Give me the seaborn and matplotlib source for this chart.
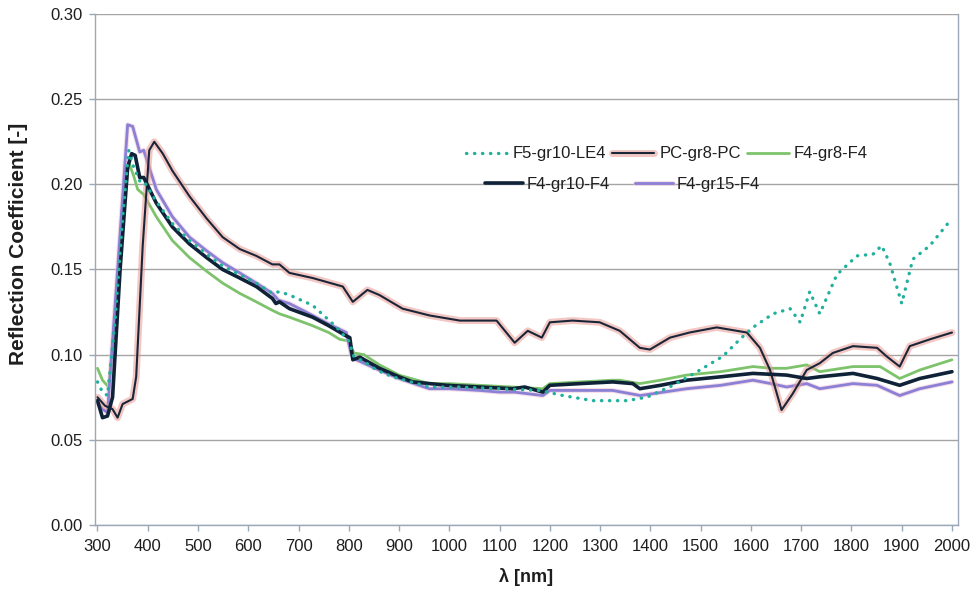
import matplotlib
matplotlib.use("Agg")
import matplotlib.pyplot as plt
import matplotlib.patheffects as pe
import seaborn as sns

# wavelength [nm] / reflection coefficient
f5_x = [300, 310, 320, 335, 350, 362, 372, 384, 392, 417, 449, 483, 517, 549, 583, 616, 648, 662, 682,
        728, 776, 800, 810, 830, 855, 887, 961, 1020, 1100, 1180, 1226, 1285, 1353, 1393, 1445, 1493,
        1544, 1578, 1604, 1644, 1678, 1698, 1717, 1737, 1771, 1811, 1843, 1860, 1876, 1900, 1922, 1956, 2000]
f5_y = [0.084, 0.078, 0.076, 0.120, 0.180, 0.220, 0.210, 0.202, 0.202, 0.190, 0.177, 0.167, 0.159, 0.152,
        0.147, 0.142, 0.136, 0.137, 0.135, 0.129, 0.116, 0.108, 0.099, 0.096, 0.091, 0.087, 0.081, 0.081,
        0.080, 0.079, 0.076, 0.073, 0.073, 0.075, 0.082, 0.090, 0.099, 0.109, 0.116, 0.124, 0.127, 0.119,
        0.137, 0.124, 0.147, 0.158, 0.159, 0.164, 0.154, 0.130, 0.156, 0.164, 0.180]

pc_x = [300, 315, 330, 340, 350, 370, 377, 390, 403, 413, 430, 449, 483, 517, 549, 583, 616, 648, 662,
        682, 728, 788, 808, 837, 861, 907, 961, 1021, 1094, 1130, 1156, 1184, 1200, 1245, 1299, 1339,
        1379, 1399, 1439, 1478, 1532, 1592, 1618, 1638, 1661, 1683, 1711, 1737, 1763, 1803, 1851, 1870,
        1896, 1916, 1956, 2000]
pc_y = [0.075, 0.070, 0.068, 0.063, 0.071, 0.074, 0.087, 0.164, 0.220, 0.225, 0.218, 0.208, 0.193, 0.180,
        0.169, 0.162, 0.158, 0.153, 0.153, 0.148, 0.145, 0.140, 0.131, 0.138, 0.135, 0.127, 0.123, 0.120,
        0.120, 0.107, 0.114, 0.110, 0.119, 0.120, 0.119, 0.114, 0.104, 0.103, 0.110, 0.113, 0.116, 0.113,
        0.104, 0.091, 0.0675, 0.077, 0.091, 0.095, 0.101, 0.105, 0.104, 0.099, 0.093, 0.105, 0.109, 0.113]

gr8_x = [300, 310, 322, 335, 350, 362, 372, 380, 392, 417, 449, 483, 517, 549, 583, 616, 648, 662, 682,
         728, 760, 782, 800, 810, 830, 861, 900, 960, 1000, 1060, 1126, 1186, 1200, 1260, 1325, 1339,
         1379, 1420, 1472, 1540, 1604, 1640, 1671, 1711, 1737, 1803, 1857, 1896, 1936, 2000]
gr8_y = [0.092, 0.085, 0.081, 0.120, 0.180, 0.213, 0.205, 0.197, 0.194, 0.181, 0.167, 0.157, 0.149, 0.142,
         0.136, 0.131, 0.126, 0.124, 0.122, 0.117, 0.113, 0.109, 0.108, 0.101, 0.100, 0.094, 0.088, 0.083,
         0.083, 0.082, 0.081, 0.080, 0.083, 0.084, 0.085, 0.085, 0.083, 0.085, 0.088, 0.090, 0.093, 0.092,
         0.092, 0.094, 0.090, 0.093, 0.093, 0.086, 0.091, 0.097]

gr10_x = [300, 310, 320, 330, 345, 360, 368, 375, 384, 392, 417, 449, 483, 517, 549, 583, 616, 648, 655,
          662, 682, 728, 760, 795, 802, 808, 822, 861, 900, 927, 995, 1060, 1126, 1150, 1186, 1200, 1260,
          1325, 1365, 1379, 1420, 1472, 1540, 1604, 1671, 1711, 1737, 1803, 1851, 1896, 1936, 2000]
gr10_y = [0.073, 0.063, 0.064, 0.075, 0.150, 0.210, 0.218, 0.217, 0.204, 0.204, 0.189, 0.175, 0.165, 0.157,
          0.150, 0.145, 0.140, 0.133, 0.130, 0.131, 0.127, 0.122, 0.117, 0.111, 0.110, 0.097, 0.0985, 0.092,
          0.087, 0.084, 0.082, 0.081, 0.080, 0.081, 0.078, 0.082, 0.083, 0.084, 0.083, 0.080, 0.082, 0.085,
          0.087, 0.089, 0.088, 0.086, 0.087, 0.089, 0.086, 0.082, 0.086, 0.090]

gr15_x = [300, 310, 320, 340, 360, 370, 384, 392, 417, 449, 483, 517, 549, 583, 616, 648, 660, 682, 728,
          760, 795, 805, 815, 830, 860, 900, 960, 1000, 1060, 1100, 1130, 1186, 1200, 1260, 1325, 1380,
          1472, 1540, 1604, 1640, 1671, 1711, 1737, 1803, 1851, 1896, 1936, 2000]
gr15_y = [0.072, 0.068, 0.066, 0.150, 0.235, 0.234, 0.219, 0.220, 0.197, 0.181, 0.169, 0.161, 0.154, 0.148,
          0.142, 0.136, 0.132, 0.130, 0.123, 0.118, 0.113, 0.100, 0.097, 0.095, 0.091, 0.086, 0.080, 0.080,
          0.079, 0.078, 0.078, 0.076, 0.079, 0.079, 0.079, 0.076, 0.080, 0.082, 0.085, 0.083, 0.081, 0.083,
          0.080, 0.083, 0.082, 0.076, 0.080, 0.084]

x_ticks = list(range(300, 2001, 100))
y_ticks = [0.00, 0.05, 0.10, 0.15, 0.20, 0.25, 0.30]

sns.set_style("white")
plt.rcParams['font.family'] = ['Liberation Sans', 'DejaVu Sans']

fig = plt.figure(figsize=(9.72, 5.94), dpi=100)
ax = fig.add_axes([0.0977, 0.1162, 0.8879, 0.8602])

# draw lines (bottom to top)
sns.lineplot(x=gr8_x, y=gr8_y, ax=ax, color="#7dc36b", linewidth=2, label="F4-gr8-F4", legend=False)
sns.lineplot(x=gr15_x, y=gr15_y, ax=ax, color="#8a80d6", linewidth=2, label="F4-gr15-F4", legend=False,
             path_effects=[pe.Stroke(linewidth=3.5, foreground="#f2c6d6", alpha=0.6), pe.Normal()])
sns.lineplot(x=pc_x, y=pc_y, ax=ax, color="#1a2638", linewidth=1.5, label="PC-gr8-PC", legend=False,
             path_effects=[pe.Stroke(linewidth=5, foreground="#e89a94", alpha=0.55), pe.Normal()])
sns.lineplot(x=gr10_x, y=gr10_y, ax=ax, color="#0f2238", linewidth=2.6, label="F4-gr10-F4", legend=False)
sns.lineplot(x=f5_x, y=f5_y, ax=ax, color="#20b09c", linewidth=2.4, label="F5-gr10-LE4", legend=False,
             linestyle=(0, (0.1, 2.3)), dash_capstyle="round")

ax.set_xlim(295, 2012)
ax.set_ylim(0, 0.30)
ax.set_xticks(x_ticks)
ax.set_yticks(y_ticks)
ax.set_yticklabels([f"{v:.2f}" for v in y_ticks])
ax.tick_params(axis="both", labelsize=12, length=4, width=1, color="#9aa8b8", direction="out",
               labelcolor="#1e1e1e", bottom=True, left=True)
ax.tick_params(axis="x", pad=6)
ax.tick_params(axis="y", pad=5)
ax.yaxis.grid(True, color="#a4a4a4", linewidth=1)
ax.xaxis.grid(False)
for side in ["left", "bottom", "right"]:
    ax.spines[side].set_color("#9aa8b8")
    ax.spines[side].set_linewidth(1)
ax.spines["top"].set_visible(False)

ax.set_xlabel("λ [nm]", fontsize=13, fontweight="bold", color="#1e1e1e")
ax.set_ylabel("Reflection Coefficient [-]", fontsize=15, fontweight="bold", color="#1e1e1e")
ax.xaxis.set_label_coords(0.5, -0.084)
ax.xaxis.label.set_verticalalignment("top")
ax.yaxis.set_label_coords(-0.0776, 0.55)

# legend: 3 entries on first row, 2 on second, like the original
lines = {l.get_label(): l for l in ax.get_lines()}
row1 = ["F5-gr10-LE4", "PC-gr8-PC", "F4-gr8-F4"]
row2 = ["F4-gr10-F4", "F4-gr15-F4"]
leg1 = ax.legend([lines[n] for n in row1], row1, ncol=3, frameon=False, fontsize=12,
                 loc="center", bbox_to_anchor=(0.686, 0.741), bbox_transform=fig.transFigure,
                 handlelength=2.5, handletextpad=0.3, columnspacing=0.4, labelcolor="#1e1e1e")
ax.add_artist(leg1)
ax.legend([lines[n] for n in row2], row2, ncol=2, frameon=False, fontsize=12,
          loc="center", bbox_to_anchor=(0.640, 0.689), bbox_transform=fig.transFigure,
          handlelength=2.3, handletextpad=0.2, columnspacing=1.5, labelcolor="#1e1e1e")

fig.savefig("out.png", dpi=100)
